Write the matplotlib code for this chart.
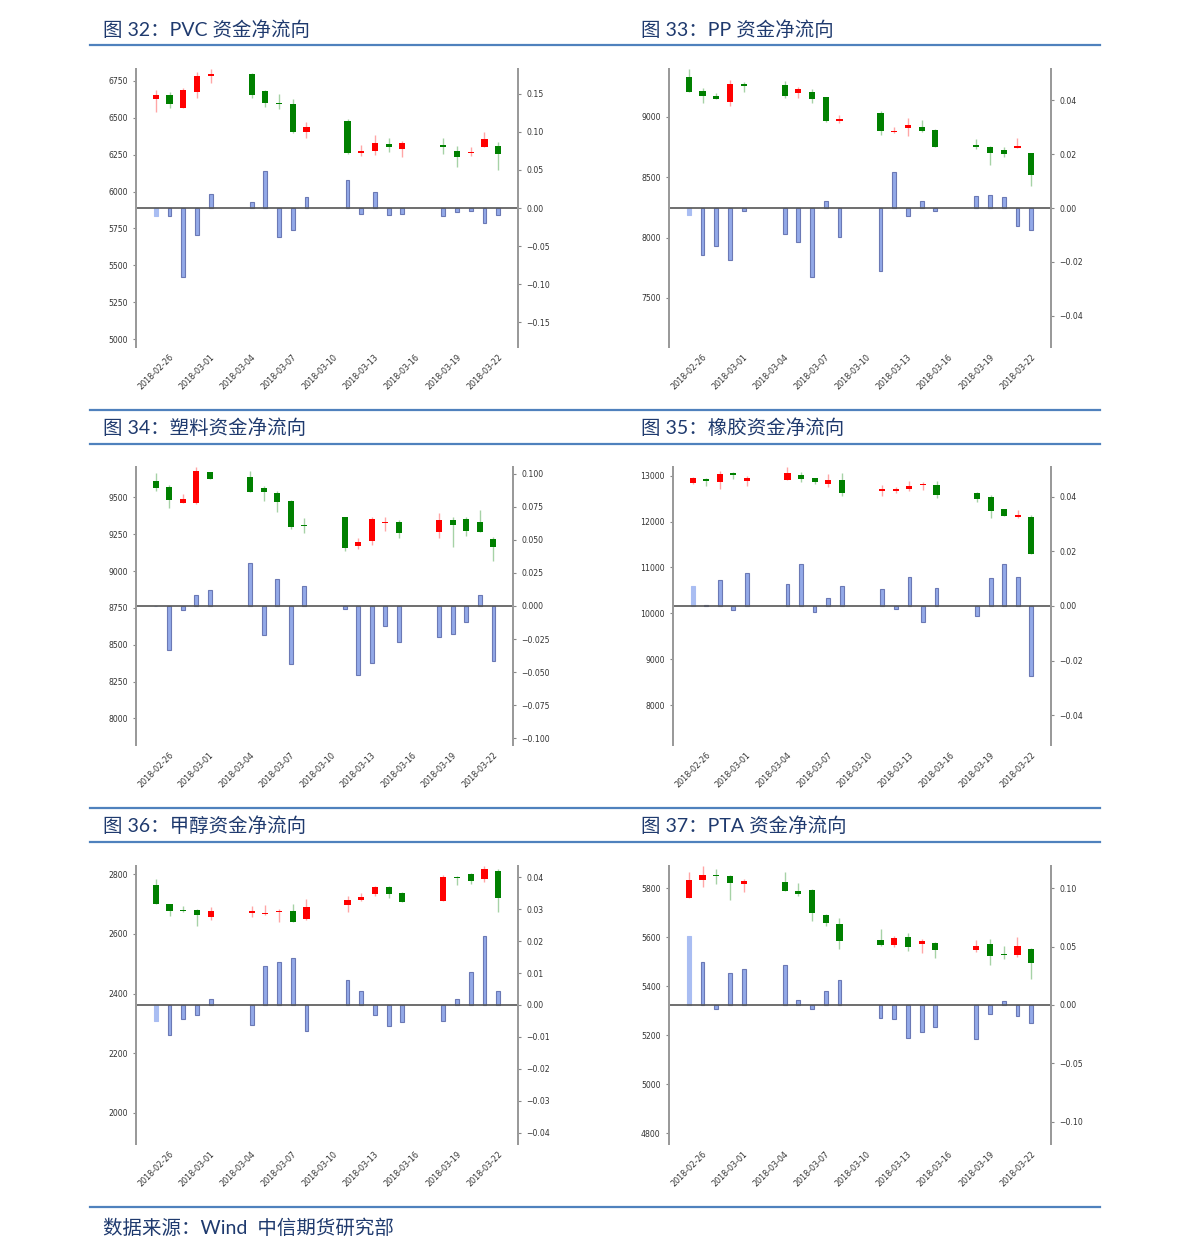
import pandas as pd
import matplotlib
matplotlib.use("Agg")
from matplotlib import pyplot as plt
import matplotlib.dates as mdates

dates = ["2018-02-26", "2018-02-27", "2018-02-28", "2018-03-01", "2018-03-02",
         "2018-03-05", "2018-03-06", "2018-03-07", "2018-03-08", "2018-03-09",
         "2018-03-12", "2018-03-13", "2018-03-14", "2018-03-15", "2018-03-16",
         "2018-03-19", "2018-03-20", "2018-03-21", "2018-03-22", "2018-03-23"]
tick_labels = ["2018-02-26", "2018-03-01", "2018-03-04", "2018-03-07", "2018-03-10",
               "2018-03-13", "2018-03-16", "2018-03-19", "2018-03-22"]

# PVC
pvc_open = [6630, 6657, 6569, 6675, 6782, 6795, 6684, 6603, 6594, 6404,
            6476, 6264, 6277, 6323, 6291, 6316, 6277, 6259, 6300, 6307]
pvc_close = [6653, 6596, 6687, 6786, 6797, 6655, 6601, 6596, 6404, 6436,
             6264, 6273, 6332, 6305, 6327, 6305, 6234, 6268, 6354, 6253]
pvc_high = [6689, 6673, 6705, 6809, 6829, 6807, 6689, 6662, 6630, 6472,
            6490, 6316, 6386, 6363, 6343, 6363, 6307, 6300, 6404, 6336]
pvc_low = [6542, 6565, 6569, 6632, 6739, 6637, 6576, 6560, 6395, 6366,
           6257, 6244, 6250, 6271, 6237, 6255, 6167, 6241, 6300, 6146]
pvc_flow = [-0.0105, -0.011, -0.091, -0.036, 0.019, 0.0083, 0.049, -0.0376, -0.0288, 0.0149,
            0.037, -0.0074, 0.0205, -0.0096, -0.0083, -0.0109, -0.0048, -0.0039, -0.0192, -0.0092]

# PP
pp_open = [9328, 9210, 9171, 9124, 9267, 9262, 9196, 9201, 9160, 8964,
           9030, 8876, 8904, 8912, 8890, 8763, 8749, 8722, 8744, 8699]
pp_close = [9204, 9171, 9146, 9270, 9256, 9168, 9226, 9146, 8961, 8981,
            8884, 8884, 8931, 8884, 8752, 8752, 8702, 8691, 8755, 8520]
pp_high = [9392, 9234, 9193, 9303, 9284, 9295, 9248, 9229, 9160, 9017,
           9047, 8917, 8986, 8970, 8895, 8815, 8757, 8752, 8821, 8699]
pp_low = [9204, 9110, 9143, 9091, 9201, 9157, 9157, 9110, 8956, 8945,
          8851, 8862, 8837, 8870, 8746, 8730, 8603, 8664, 8744, 8427]
pp_flow = [-0.0026, -0.0175, -0.014, -0.0193, -0.001, -0.0095, -0.0126, -0.0257, 0.0025, -0.0106,
           -0.0234, 0.0134, -0.0031, 0.0026, -0.0012, 0.0045, 0.005, 0.0042, -0.0066, -0.0083]

# 塑料
pe_open = [9613, 9568, 9464, 9459, 9670, 9636, 9561, 9529, 9473, 9312,
           9367, 9167, 9204, 9328, 9333, 9267, 9346, 9351, 9333, 9217]
pe_close = [9563, 9484, 9489, 9681, 9622, 9538, 9534, 9468, 9301, 9303,
            9156, 9195, 9351, 9333, 9258, 9344, 9312, 9274, 9267, 9163]
pe_high = [9663, 9586, 9525, 9704, 9670, 9676, 9579, 9541, 9482, 9360,
           9367, 9226, 9364, 9369, 9344, 9391, 9364, 9364, 9412, 9233]
pe_low = [9545, 9425, 9464, 9455, 9622, 9538, 9475, 9398, 9285, 9260,
          9136, 9147, 9174, 9274, 9226, 9226, 9163, 9240, 9267, 9070]
pe_flow = [0.0003, -0.0333, -0.0028, 0.0086, 0.0124, 0.0323, -0.0222, 0.0207, -0.0442, 0.0149,
           -0.0025, -0.0525, -0.0429, -0.0154, -0.0273, -0.0232, -0.0212, -0.0124, 0.0083, -0.0417]

# 橡胶
ru_open = [12840, 12935, 12862, 13058, 12891, 12898, 13022, 12949, 12826, 12913,
           12666, 12666, 12717, 12789, 12797, 12615, 12542, 12266, 12099, 12099]
ru_close = [12942, 12884, 13029, 13007, 12956, 13051, 12927, 12855, 12913, 12615,
            12702, 12702, 12782, 12826, 12579, 12499, 12237, 12128, 12142, 11300]
ru_high = [12978, 12956, 13102, 13087, 13000, 13182, 13087, 12949, 13029, 13051,
           12789, 12746, 12876, 12855, 12876, 12644, 12571, 12281, 12251, 12142]
ru_low = [12826, 12775, 12717, 12927, 12775, 12898, 12855, 12818, 12753, 12564,
          12564, 12615, 12666, 12680, 12520, 12419, 12077, 12128, 12077, 11300]
ru_flow = [0.0072, 0.0003, 0.0095, -0.0016, 0.012, 0.0079, 0.0153, -0.0023, 0.0028, 0.0072,
           0.0061, -0.0012, 0.0107, -0.006, 0.0065, -0.0037, 0.0101, 0.0153, 0.0106, -0.0255]

# 甲醇
ma_open = [2764, 2702, 2680, 2680, 2657, 2671, 2667, 2672, 2676, 2650,
           2697, 2715, 2735, 2759, 2736, 2709, 2792, 2800, 2785, 2811]
ma_close = [2702, 2676, 2677, 2662, 2677, 2678, 2669, 2677, 2641, 2691,
            2713, 2725, 2759, 2735, 2707, 2790, 2787, 2777, 2817, 2719]
ma_high = [2783, 2702, 2693, 2683, 2691, 2693, 2697, 2685, 2702, 2716,
           2728, 2736, 2762, 2762, 2740, 2798, 2796, 2803, 2827, 2819]
ma_low = [2702, 2661, 2672, 2625, 2646, 2656, 2663, 2641, 2641, 2647,
          2675, 2712, 2728, 2722, 2707, 2709, 2764, 2766, 2773, 2675]
ma_flow = [-0.005, -0.0094, -0.0045, -0.003, 0.0019, -0.0064, 0.0122, 0.0134, 0.0148, -0.0081,
           0.0078, 0.0045, -0.0032, -0.0065, -0.0052, -0.0049, 0.0019, 0.0104, 0.0217, 0.0043]

# PTA
ta_open = [5761, 5834, 5854, 5848, 5816, 5823, 5786, 5792, 5690, 5655,
           5588, 5569, 5599, 5572, 5577, 5546, 5572, 5531, 5527, 5551]
ta_close = [5834, 5854, 5849, 5820, 5830, 5786, 5774, 5698, 5657, 5584,
            5569, 5596, 5561, 5584, 5546, 5562, 5524, 5527, 5562, 5494]
ta_high = [5867, 5888, 5877, 5854, 5838, 5864, 5820, 5795, 5693, 5676,
           5632, 5606, 5617, 5592, 5581, 5588, 5591, 5565, 5599, 5555]
ta_low = [5761, 5804, 5816, 5752, 5782, 5786, 5769, 5664, 5644, 5551,
          5562, 5558, 5543, 5534, 5513, 5538, 5488, 5511, 5517, 5428]
ta_flow = [0.0587, 0.0368, -0.0034, 0.0271, 0.0308, 0.0345, 0.004, -0.0037, 0.012, 0.0214,
           -0.0111, -0.012, -0.0279, -0.0228, -0.0191, -0.0291, -0.0077, 0.0031, -0.0094, -0.0151]

titles = ["图 32：PVC 资金净流向", "图 33：PP 资金净流向", "图 34：塑料资金净流向",
          "图 35：橡胶资金净流向", "图 36：甲醇资金净流向", "图 37：PTA 资金净流向"]
source = "数据来源：Wind  中信期货研究部"

W, H = 1191, 1258
fig = plt.figure(figsize=(W / 100, H / 100), dpi=100)

x = mdates.date2num(pd.to_datetime(dates))
xt = mdates.date2num(pd.to_datetime(tick_labels))

# pixel boxes: left, right, top, bottom ; left ylim ; right half-range ; ticks
panels = [
    (pvc_open, pvc_close, pvc_high, pvc_low, pvc_flow, (136, 518, 69, 347), (4946, 6831), 0.1823,
     range(5000, 6751, 250), [-0.15, -0.10, -0.05, 0, 0.05, 0.10, 0.15], "%.2f"),
    (pp_open, pp_close, pp_high, pp_low, pp_flow, (669, 1051, 69, 347), (7094, 9395), 0.0516,
     range(7500, 9001, 500), [-0.04, -0.02, 0, 0.02, 0.04], "%.2f"),
    (pe_open, pe_close, pe_high, pe_low, pe_flow, (136, 513, 467, 745), (7819, 9706), 0.1053,
     range(8000, 9501, 250), [-0.1, -0.075, -0.05, -0.025, 0, 0.025, 0.05, 0.075, 0.1], "%.3f"),
    (ru_open, ru_close, ru_high, ru_low, ru_flow, (673, 1051, 467, 745), (7128, 13190), 0.0508,
     range(8000, 13001, 1000), [-0.04, -0.02, 0, 0.02, 0.04], "%.2f"),
    (ma_open, ma_close, ma_high, ma_low, ma_flow, (136, 518, 866, 1144), (1895, 2828), 0.0436,
     range(2000, 2801, 200), [-0.04, -0.03, -0.02, -0.01, 0, 0.01, 0.02, 0.03, 0.04], "%.2f"),
    (ta_open, ta_close, ta_high, ta_low, ta_flow, (669, 1051, 866, 1144), (4756, 5890), 0.119,
     range(4800, 5801, 200), [-0.10, -0.05, 0, 0.05, 0.10], "%.2f"),
]

spine_col = "#9a9a9a"
for o, c, hi, lo, flow, (l, r, t, b), ylim, half, lticks, rticks, rfmt in panels:
    ax = fig.add_axes([l / W, 1 - b / H, (r - l) / W, (b - t) / H])
    ax2 = ax.twinx()
    ax.set_zorder(2)
    ax.patch.set_visible(False)

    up = [ci >= oi for oi, ci in zip(o, c)]
    cols = ["red" if u else "green" for u in up]
    body = [max(abs(ci - oi), (ylim[1] - ylim[0]) * 0.002) for oi, ci in zip(o, c)]
    bottom = [min(oi, ci) for oi, ci in zip(o, c)]
    ax.vlines(x, lo, hi, colors=cols, lw=1, alpha=0.35)
    ax.bar(x, body, bottom=bottom, width=0.45, color=cols, linewidth=0)

    bar_fc = ["#a9bdf2"] + ["#93a9e8"] * (len(flow) - 1)
    bar_ec = ["#a9bdf2"] + ["#6b79b5"] * (len(flow) - 1)
    ax2.bar(x, flow, width=0.28, color=bar_fc, edgecolor=bar_ec, linewidth=0.8)
    ax2.axhline(0, color="#555555", lw=1.2)

    ax.set_xlim(x[0] - 1.45, x[-1] + 1.45)
    ax.set_ylim(*ylim)
    ax2.set_ylim(-half, half)
    ax.set_yticks(list(lticks))
    ax2.set_yticks(rticks)
    ax2.set_yticklabels([(rfmt % v).replace("-", "\u2212") for v in rticks])
    ax.set_xticks(xt)
    ax.set_xticklabels(tick_labels, rotation=45, ha="center")

    for a in (ax, ax2):
        for s in ("top", "bottom"):
            a.spines[s].set_visible(False)
        a.spines["left"].set_color(spine_col)
        a.spines["right"].set_color(spine_col)
        a.spines["left"].set_linewidth(1.4)
        a.spines["right"].set_linewidth(1.4)
        a.tick_params(axis="y", labelsize=5.6, colors="#333333", length=2.5, width=0.8)
        a.tick_params(axis="y", color="#888888")
    ax.tick_params(axis="x", labelsize=5.8, colors="#333333", length=0, pad=4)

title_col = "#1f3a6e"
rule_col = "#4f81bd"
fam = ["Lato", "Noto Sans CJK SC"]
title_pos = [(103, 30), (641, 30), (103, 428), (641, 428), (103, 826), (641, 826)]
for (tx, ty), s in zip(title_pos, titles):
    fig.text(tx / W, 1 - ty / H, s, family=fam, fontsize=14, color=title_col, va="center", ha="left")
fig.text(103 / W, 1 - 1228 / H, source, family=fam, fontsize=14, color=title_col, va="center", ha="left")

for yy in (45, 410, 444, 808, 842, 1207):
    fig.add_artist(plt.Line2D([90 / W, 1100 / W], [1 - yy / H, 1 - yy / H], color=rule_col, lw=1.6))

fig.savefig("out.png", dpi=100)
